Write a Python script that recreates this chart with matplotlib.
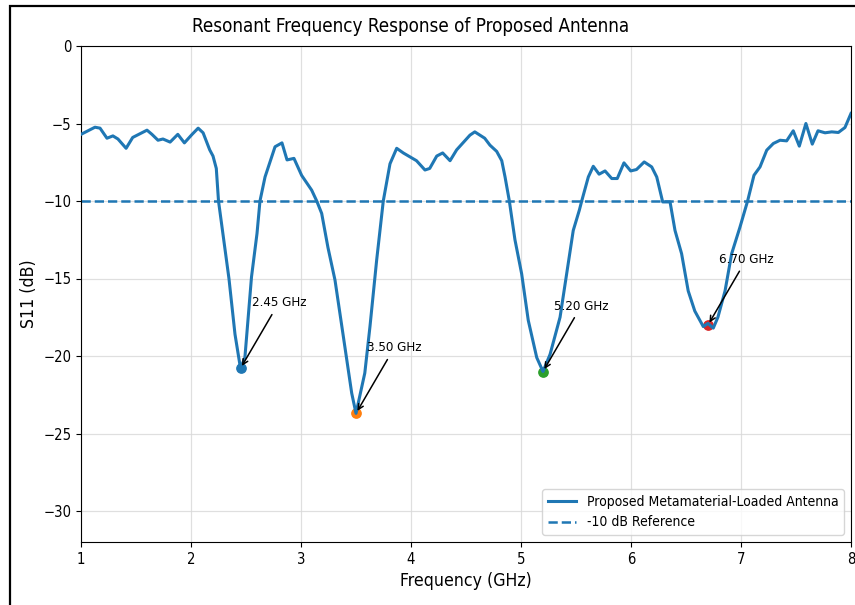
import matplotlib
matplotlib.use("Agg")
import matplotlib.pyplot as plt
from matplotlib.patches import Rectangle

plt.rcParams['font.family'] = ['DejaVu Sans']
plt.rcParams['font.stretch'] = 'condensed'

# S11 curve
freq = [1.00, 1.127, 1.173, 1.236, 1.29, 1.336, 1.41, 1.47, 1.60, 1.645,
        1.70, 1.745, 1.81, 1.88, 1.94, 2.01, 2.065, 2.11, 2.17, 2.20,
        2.23, 2.25, 2.345, 2.40, 2.45, 2.49, 2.55, 2.60, 2.627, 2.673,
        2.764, 2.827, 2.873, 2.936, 3.006, 3.097, 3.143, 3.188, 3.245, 3.309,
        3.382, 3.461, 3.50, 3.58, 3.627, 3.688, 3.748, 3.809, 3.87, 3.93,
        4.05, 4.127, 4.17, 4.234, 4.288, 4.355, 4.415, 4.536, 4.58, 4.67,
        4.718, 4.779, 4.825, 4.855, 4.894, 4.945, 5.006, 5.066, 5.143, 5.20,
        5.264, 5.355, 5.415, 5.475, 5.53, 5.552, 5.612, 5.657, 5.71, 5.764,
        5.825, 5.875, 5.936, 5.997, 6.05, 6.12, 6.188, 6.234, 6.288, 6.355,
        6.40, 6.46, 6.52, 6.58, 6.657, 6.70, 6.748, 6.79, 6.855, 6.915,
        6.99, 7.06, 7.118, 7.173, 7.234, 7.294, 7.355, 7.415, 7.475, 7.53,
        7.59, 7.648, 7.70, 7.764, 7.825, 7.885, 7.945, 8.00]
s11 = [-5.7, -5.24, -5.3, -5.95, -5.8, -6.0, -6.6, -5.9, -5.43, -5.7,
       -6.08, -6.0, -6.2, -5.7, -6.25, -5.7, -5.3, -5.6, -6.7, -7.1,
       -7.9, -10.0, -15.0, -18.6, -20.8, -20.1, -14.9, -12.1, -10.0, -8.45,
       -6.5, -6.25, -7.35, -7.25, -8.35, -9.3, -10.0, -10.8, -13.0, -15.1,
       -18.6, -22.4, -23.7, -21.1, -18.1, -13.8, -10.0, -7.6, -6.6, -6.9,
       -7.4, -8.0, -7.9, -7.1, -6.9, -7.4, -6.7, -5.75, -5.54, -5.95,
       -6.4, -6.8, -7.4, -8.45, -10.0, -12.5, -14.7, -17.7, -20.1, -21.0,
       -19.9, -17.5, -14.7, -11.9, -10.6, -10.0, -8.45, -7.76, -8.27, -8.06,
       -8.55, -8.55, -7.54, -8.06, -7.97, -7.48, -7.8, -8.45, -10.06, -10.06,
       -11.9, -13.4, -15.8, -17.1, -18.1, -17.9, -18.2, -17.5, -15.8, -13.4,
       -11.7, -10.0, -8.34, -7.8, -6.72, -6.29, -6.08, -6.12, -5.47, -6.46,
       -5.0, -6.33, -5.47, -5.6, -5.54, -5.58, -5.26, -4.35]

res_freq = [2.45, 3.50, 5.20, 6.70]
res_s11 = [-20.8, -23.7, -21.0, -18.0]
res_colors = ['tab:blue', 'tab:orange', 'tab:green', 'tab:red']

fig = plt.figure(figsize=(8.55, 6.05), dpi=100)
ax = fig.add_axes([81 / 855, 1 - 542 / 605, 770 / 855, 496 / 605])

ax.plot(freq, s11, color='tab:blue', lw=2.2, zorder=3,
        label='Proposed Metamaterial-Loaded Antenna')
ax.axhline(-10, color='tab:blue', ls='--', lw=1.8, zorder=2,
           label='-10 dB Reference')

for f, s, c in zip(res_freq, res_s11, res_colors):
    ax.scatter(f, s, color=c, s=45, zorder=2.5)
    ax.annotate(f"{f:.2f} GHz", xy=(f, s), xytext=(f + 0.1, s + 4),
                fontsize=9.5,
                arrowprops=dict(arrowstyle='->', color='black', lw=1.1))

ax.set_xlim(1, 8)
ax.set_ylim(-32, 0)
ax.set_xticks(range(1, 9))
ax.set_yticks([0, -5, -10, -15, -20, -25, -30])
ax.tick_params(labelsize=10.6)
ax.grid(True, color='#d8d8d8', lw=0.9, alpha=0.8)
ax.set_axisbelow(True)

ax.set_xlabel("Frequency (GHz)", fontsize=12.7)
ax.set_ylabel("S11 (dB)", fontsize=12.7)
ax.set_title("Resonant Frequency Response of Proposed Antenna",
             fontsize=13.5, x=(411 - 81) / 770, pad=10)
ax.legend(loc='lower right', fontsize=10)

# frame of the figure (cropped on the right and bottom)
fig.patches.append(Rectangle((9.5 / 855, -0.5), 2, 0.5 + 1 - 6.5 / 605,
                             fill=False, lw=1.6, edgecolor='black',
                             transform=fig.transFigure, figure=fig))

fig.savefig("out.png", dpi=100)
